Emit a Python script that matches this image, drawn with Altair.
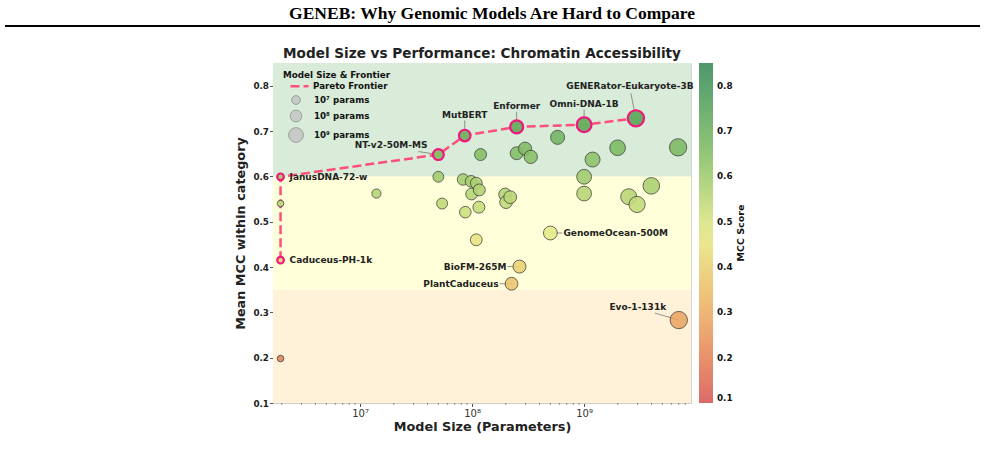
import math
import altair as alt
import pandas as pd

# ---------------- data ----------------
labeled_names = ["Caduceus-PH-1k", "JanusDNA-72-w", "NT-v2-50M-MS", "MutBERT", "Enformer",
                 "Omni-DNA-1B", "GENERator-Eukaryote-3B", "GenomeOcean-500M", "BioFM-265M",
                 "PlantCaduceus", "Evo-1-131k"]
labeled_params = [1.95e6, 1.95e6, 5.0e7, 8.6e7, 2.5e8, 1.0e9, 2.9e9, 5.0e8, 2.65e8, 2.25e8, 7.0e9]
labeled_mcc = [0.415, 0.599, 0.648, 0.690, 0.709, 0.714, 0.728, 0.475, 0.401, 0.363, 0.283]

other_params = [1.95e6, 1.95e6, 1.4e7, 1.19e8, 2.5e8, 2.97e8, 3.34e8, 5.0e7, 8.3e7, 9.8e7,
                1.09e8, 1.16e8, 9.9e7, 1.97e8, 2.19e8, 2.01e8, 5.4e7, 8.7e7, 1.15e8, 1.09e8,
                5.8e8, 1.99e9, 1.19e9, 6.9e9, 1.0e9, 1.0e9, 3.98e9, 2.5e9, 2.97e9]
other_mcc = [0.540, 0.198, 0.562, 0.648, 0.651, 0.661, 0.643, 0.599, 0.593, 0.589,
             0.585, 0.570, 0.561, 0.560, 0.554, 0.543, 0.540, 0.521, 0.532, 0.460,
             0.686, 0.663, 0.637, 0.664, 0.599, 0.562, 0.579, 0.555, 0.538]

frontier_names = ["Caduceus-PH-1k", "JanusDNA-72-w", "NT-v2-50M-MS", "MutBERT", "Enformer",
                  "Omni-DNA-1B", "GENERator-Eukaryote-3B"]

band_lo = [0.1, 0.35, 0.6]
band_hi = [0.35, 0.6, 0.85]

y_ticks = [0.1, 0.2, 0.3, 0.4, 0.5, 0.6, 0.7, 0.8]
x_ticks = [1e7, 1e8, 1e9]
size_legend_values = [2.9, 3.9, 4.9]

# ---------------- layout / style ----------------
W, H = 418, 340
XDOM = [1.67e6, 9.0e9]
YDOM = [0.1, 0.85]
FONT = "DejaVu Sans"
band_colors = ["#fff2d9", "#ffffd9", "#d9ecd9"]
cmap_stops = [0.1, 0.2875, 0.475, 0.6625, 0.85]
cmap_colors = ["#d65a5a", "#ecaa66", "#e6eb8c", "#80bc66", "#3a8c5c"]
PINK_LINE = "#ff4f7b"
PINK_EDGE = "#f0187f"

# label offsets in screen px: (text dx, text dy, align, leader dx, leader dy)
label_style = {
    "GENERator-Eukaryote-3B": (-6, -32, "center", -5, -25),
    "Omni-DNA-1B": (0, -21, "center", 0, -15),
    "Enformer": (0, -21, "center", 0, -15),
    "MutBERT": (0, -21, "center", 0, -15),
    "NT-v2-50M-MS": (-11, -10, "right", -20, -3),
    "JanusDNA-72-w": (9, 0, "left", None, None),
    "Caduceus-PH-1k": (9, 0, "left", None, None),
    "GenomeOcean-500M": (13, 0, "left", 12, 0),
    "BioFM-265M": (-13, 0, "right", -12, 0),
    "PlantCaduceus": (-13, 0, "right", -12, 0),
    "Evo-1-131k": (-41, -13, "center", -24, -7),
}

ppd = W / (math.log10(XDOM[1]) - math.log10(XDOM[0]))
ppu = H / (YDOM[1] - YDOM[0])


def shift(p, m, dx, dy):
    return p * 10 ** (dx / ppd), m - dy / ppu


# ---------------- tables ----------------
all_df = pd.DataFrame({
    "name": labeled_names + [""] * len(other_params),
    "params": labeled_params + other_params,
    "mcc": labeled_mcc + other_mcc,
})
all_df = all_df.sort_values("params").reset_index(drop=True)

lab = pd.DataFrame({"name": labeled_names, "params": labeled_params, "mcc": labeled_mcc})
front = lab[lab["name"].isin(frontier_names)].copy()
front["order"] = [frontier_names.index(n) for n in front["name"]]
front["series"] = "Pareto Frontier"

text_rows, lead_rows = [], []
for n, p, m in zip(labeled_names, labeled_params, labeled_mcc):
    tdx, tdy, al, ldx, ldy = label_style[n]
    tp, tm = shift(p, m, tdx, tdy)
    text_rows.append({"name": n, "params": tp, "mcc": tm, "align": al})
    if ldx is not None:
        lp, lm = shift(p, m, ldx, ldy)
        lead_rows.append({"params": p, "mcc": m, "lx": lp, "ly": lm})
text_df = pd.DataFrame(text_rows)
lead_df = pd.DataFrame(lead_rows)

minor = [k * 10 ** e for e in range(6, 10) for k in range(2, 10)
         if XDOM[0] < k * 10 ** e < 8.95e9]
minor_df = pd.DataFrame({"params": minor})

sup = "['⁰','¹','²','³','⁴','⁵','⁶','⁷','⁸','⁹']"


def X():
    return alt.X("params:Q",
                 scale=alt.Scale(type="log", domain=XDOM, nice=False),
                 axis=alt.Axis(values=x_ticks,
                               labelExpr="'10' + " + sup + "[round(log(datum.value)/LN10)]",
                               title="Model Size (Parameters)",
                               labelFont=FONT, labelFontSize=10, labelColor="#333",
                               titleFont=FONT, titleFontSize=12.8, titleFontWeight="bold",
                               titleColor="#222", titlePadding=2,
                               tickSize=3.5, tickColor="#555", labelPadding=1.5,
                               domainColor="#cccccc", grid=True, gridColor="#b5b5b5",
                               gridOpacity=0.35, gridWidth=0.8))


def Y():
    return alt.Y("mcc:Q",
                 scale=alt.Scale(domain=YDOM, nice=False, zero=False),
                 axis=alt.Axis(values=y_ticks, format=".1f",
                               title="Mean MCC within category",
                               labelFont=FONT, labelFontSize=8.8, labelFontWeight="bold",
                               labelColor="#222",
                               titleFont=FONT, titleFontSize=12.8, titleFontWeight="bold",
                               titleColor="#222", titlePadding=5,
                               tickSize=3.5, tickColor="#555", labelPadding=1,
                               domainColor="#cccccc", grid=True, gridColor="#b5b5b5",
                               gridOpacity=0.35, gridWidth=0.8))


color_scale = alt.Scale(domain=cmap_stops, range=cmap_colors)
size_scale = alt.Scale(type="pow", exponent=2, domain=[0, 6], range=[0, 327])

layers = []
for lo, hi, col in zip(band_lo, band_hi, band_colors):
    layers.append(
        alt.Chart(pd.DataFrame({"mcc": [lo], "mcc_hi": [hi]}))
        .mark_rect(color=col)
        .encode(x=alt.value(0), x2=alt.value(W), y=Y(), y2="mcc_hi:Q")
    )

layers.append(
    alt.Chart(minor_df).mark_rule(color="#555", strokeWidth=0.6)
    .encode(x=X(), y=alt.value(H), y2=alt.value(H + 2))
)

layers.append(
    alt.Chart(lead_df).mark_rule(color="#777777", strokeWidth=0.8)
    .encode(x=X(), y=Y(), x2="lx:Q", y2="ly:Q")
)

layers.append(
    alt.Chart(front).mark_line(color=PINK_LINE, strokeWidth=2.5)
    .encode(
        x=X(), y=Y(), order="order:Q",
        strokeDash=alt.StrokeDash(
            "series:N",
            scale=alt.Scale(domain=["Pareto Frontier"], range=[[9, 4]]),
            legend=alt.Legend(title="Model Size & Frontier", orient="none",
                              legendX=10, legendY=8, padding=0,
                              titleFont=FONT, titleFontSize=8.8, titleFontWeight="bold",
                              titleColor="#111", titlePadding=-4,
                              labelFont=FONT, labelFontSize=8.7, labelFontWeight="bold",
                              labelColor="#111", labelOffset=3,
                              symbolType="stroke", symbolStrokeColor=PINK_LINE,
                              symbolStrokeWidth=2.5, symbolSize=324, symbolOffset=6)),
    )
)

layers.append(
    alt.Chart(all_df)
    .transform_calculate(u="log(datum.params)/LN10 - 4.1")
    .mark_circle(stroke="#333333", strokeWidth=0.8, opacity=0.9)
    .encode(
        x=X(), y=Y(),
        color=alt.Color("mcc:Q", scale=color_scale,
                        legend=alt.Legend(title=None, orient="none", legendX=426, legendY=0,
                                          direction="vertical", gradientLength=340,
                                          gradientThickness=14, values=y_ticks, format=".1f",
                                          labelFont=FONT, labelFontSize=8.8,
                                          labelFontWeight="bold", labelColor="#111",
                                          labelOffset=4, gradientStrokeWidth=0,
                                          labelOverlap=False)),
        size=alt.Size("u:Q", scale=size_scale,
                      legend=alt.Legend(title=None, orient="none", legendX=15, legendY=32,
                                        padding=0, values=size_legend_values,
                                        labelExpr="datum.value < 3.4 ? '10⁷ params' : datum.value < 4.4 ? '10⁸ params' : '10⁹ params'",
                                        labelFont=FONT, labelFontSize=8.7, labelFontWeight="bold",
                                        labelColor="#111", labelOffset=10,
                                        symbolFillColor="#c5c5c5", symbolStrokeColor="#7a7a7a",
                                        symbolStrokeWidth=0.8, symbolOpacity=0.8,
                                        rowPadding=2.5)),
    )
)

layers.append(
    alt.Chart(front)
    .transform_calculate(u="log(datum.params)/LN10 - 4.1")
    .mark_circle(stroke=PINK_EDGE, strokeWidth=2.2, fillOpacity=0.92, strokeOpacity=1)
    .encode(
        x=X(), y=Y(),
        color=alt.Color("mcc:Q", scale=color_scale, legend=None),
        size=alt.Size("u:Q", scale=size_scale, legend=None),
    )
)

for al in ["left", "right", "center"]:
    sub = text_df[text_df["align"] == al]
    layers.append(
        alt.Chart(sub).mark_text(align=al, baseline="middle", font=FONT, fontWeight="bold",
                                 fontSize=9, color="#222222")
        .encode(x=X(), y=Y(), text="name:N")
    )

one = pd.DataFrame({"k": [0]})
layers.append(
    alt.Chart(one).mark_text(text="Model Size vs Performance: Chromatin Accessibility",
                             align="center", baseline="middle", font=FONT, fontWeight="bold",
                             fontSize=13.6, color="#222222")
    .encode(x=alt.value(W / 2), y=alt.value(-9))
)
layers.append(
    alt.Chart(one).mark_text(text="MCC Score", align="center", baseline="middle", angle=270,
                             font=FONT, fontWeight="bold", fontSize=9.5, color="#111111")
    .encode(x=alt.value(468), y=alt.value(H / 2))
)
layers.append(
    alt.Chart(one).mark_text(text="GENEB: Why Genomic Models Are Hard to Compare",
                             align="center", baseline="middle", font="Liberation Serif",
                             fontWeight="bold", fontSize=17.5, color="#000000")
    .encode(x=alt.value(219), y=alt.value(-49))
)
layers.append(
    alt.Chart(one).mark_rule(color="#000000", strokeWidth=2)
    .encode(x=alt.value(-268), x2=alt.value(707), y=alt.value(-37))
)

chart = (
    alt.layer(*layers)
    .properties(width=W, height=H, autosize=alt.AutoSizeParams(type="none"),
                padding={"left": 273, "top": 63, "right": 294, "bottom": 47},
                background="white")
    .configure_view(stroke="#d6d6d6", strokeWidth=1)
    .configure_legend(symbolBaseFillColor="#c5c5c5", symbolBaseStrokeColor="#7a7a7a")
)

chart.save("out.html", embed_options={"renderer": "svg", "actions": False})
